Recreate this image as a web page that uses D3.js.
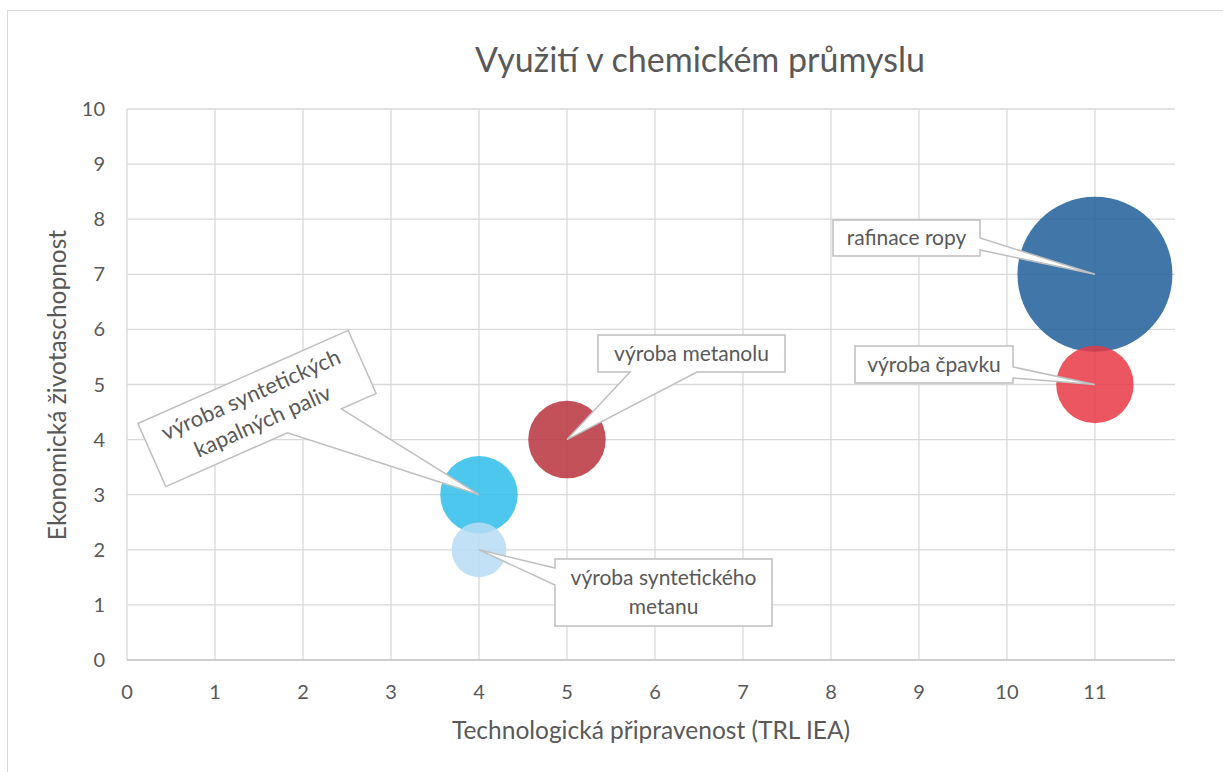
<!DOCTYPE html>
<html>
<head>
<meta charset="utf-8">
<script src="https://cdn.jsdelivr.net/npm/d3@7"></script>
<style>
  body { margin: 0; background: #fff; }
  svg text { font-family: Lato, "Open Sans", sans-serif; fill: #595959; }
</style>
</head>
<body>
<script>
// data
var names = ["rafinace ropy", "výroba čpavku", "výroba metanolu", "výroba syntetických kapalných paliv", "výroba syntetického metanu"];
var trl = [11, 11, 5, 4, 4];
var econ = [7, 5, 4, 3, 2];
var bubbleSize = [4, 1, 1, 1, 0.5];
var colors = ["#1f5f99", "#e73845", "#b8333c", "#2fbdeb", "#b8dcf4"];
var xTicks = [0, 1, 2, 3, 4, 5, 6, 7, 8, 9, 10, 11];
var yTicks = [0, 1, 2, 3, 4, 5, 6, 7, 8, 9, 10];

var width = 1223, height = 772;
var plotL = 127, plotR = 1175, plotT = 109, plotB = 660;

var svg = d3.select("body").append("svg")
  .attr("width", width)
  .attr("height", height);

// chart frame
svg.append("rect")
  .attr("x", 7.5).attr("y", 10.5)
  .attr("width", 1230).attr("height", 780)
  .attr("fill", "none").attr("stroke", "#d9d9d9");

var x = d3.scaleLinear().domain([0, 11.91]).range([plotL, plotR]);
var y = d3.scaleLinear().domain([0, 10]).range([plotB, plotT]);
var r = d3.scaleSqrt().domain([0, 4]).range([0, 77.5]);

// gridlines
svg.append("g").selectAll("line")
  .data(yTicks.slice(1))
  .enter().append("line")
  .attr("x1", plotL).attr("x2", plotR)
  .attr("y1", function(d) { return y(d); })
  .attr("y2", function(d) { return y(d); })
  .attr("stroke", "#d9d9d9").attr("stroke-width", 1.3);

svg.append("g").selectAll("line")
  .data(xTicks)
  .enter().append("line")
  .attr("x1", function(d) { return x(d); })
  .attr("x2", function(d) { return x(d); })
  .attr("y1", plotT).attr("y2", plotB)
  .attr("stroke", "#d9d9d9").attr("stroke-width", 1.3);

// x axis line
svg.append("line")
  .attr("x1", plotL).attr("x2", plotR)
  .attr("y1", y(0)).attr("y2", y(0))
  .attr("stroke", "#bfbfbf").attr("stroke-width", 1.5);

// tick labels
svg.append("g").selectAll("text")
  .data(xTicks)
  .enter().append("text")
  .attr("x", function(d) { return x(d); })
  .attr("y", 699)
  .attr("text-anchor", "middle")
  .attr("font-size", 20)
  .text(function(d) { return d; });

svg.append("g").selectAll("text")
  .data(yTicks)
  .enter().append("text")
  .attr("x", 105)
  .attr("y", function(d) { return y(d) + 7; })
  .attr("text-anchor", "end")
  .attr("font-size", 20)
  .text(function(d) { return d; });

// titles
svg.append("text")
  .attr("x", 700).attr("y", 72)
  .attr("text-anchor", "middle")
  .attr("font-size", 34)
  .text("Využití v chemickém průmyslu");

svg.append("text")
  .attr("x", 651).attr("y", 739)
  .attr("text-anchor", "middle")
  .attr("font-size", 24.5)
  .text("Technologická připravenost (TRL IEA)");

svg.append("text")
  .attr("transform", "translate(66,385) rotate(-90)")
  .attr("text-anchor", "middle")
  .attr("font-size", 24.5)
  .text("Ekonomická životaschopnost");

// bubbles
var idx = d3.range(names.length);
svg.append("g").selectAll("circle")
  .data(idx)
  .enter().append("circle")
  .attr("cx", function(i) { return x(trl[i]); })
  .attr("cy", function(i) { return y(econ[i]); })
  .attr("r", function(i) { return r(bubbleSize[i]); })
  .attr("fill", function(i) { return colors[i]; })
  .attr("fill-opacity", 0.85);

// callout shape: box with a wedge on one side pointing at tip
function calloutPath(x0, y0, w, h, side, a, b, tip) {
  var x1 = x0 + w, y1 = y0 + h;
  var p = [[x0, y0]];
  if (side == "top") p.push([x0 + a, y0], tip, [x0 + b, y0]);
  p.push([x1, y0]);
  if (side == "right") p.push([x1, y0 + a], tip, [x1, y0 + b]);
  p.push([x1, y1]);
  if (side == "bottom") p.push([x0 + b, y1], tip, [x0 + a, y1]);
  p.push([x0, y1]);
  if (side == "left") p.push([x0, y0 + b], tip, [x0, y0 + a]);
  return "M" + p.map(function(q) { return q.join(","); }).join("L") + "Z";
}

// callout layout (box position, wedge side and wedge base along that side)
var callouts = [
  { i: 0, cx: 906.5, cy: 238, w: 147, h: 36, angle: 0, side: "right", a: 18, b: 30, fs: 21, lines: ["rafinace ropy"] },
  { i: 1, cx: 934, cy: 364.5, w: 158, h: 37, angle: 0, side: "right", a: 21, b: 32, fs: 21, lines: ["výroba čpavku"] },
  { i: 2, cx: 691.5, cy: 353.5, w: 187, h: 37, angle: 0, side: "bottom", a: 32, b: 99, fs: 21, lines: ["výroba metanolu"] },
  { i: 3, cx: 257, cy: 408.5, w: 230, h: 69, angle: -23.9, side: "bottom", a: 133, b: 192, fs: 22, lines: ["výroba syntetických", "kapalných paliv"] },
  { i: 4, cx: 663.5, cy: 592.5, w: 217, h: 67, angle: 0, side: "left", a: 9, b: 26, fs: 21, lines: ["výroba syntetického", "metanu"] }
];

callouts.forEach(function(c) {
  var g = svg.append("g")
    .attr("transform", "translate(" + c.cx + "," + c.cy + ") rotate(" + c.angle + ")");
  // tip in the box's own rotated frame
  var dx = x(trl[c.i]) - c.cx, dy = y(econ[c.i]) - c.cy;
  var t = -c.angle * Math.PI / 180;
  var tip = [dx * Math.cos(t) - dy * Math.sin(t), dx * Math.sin(t) + dy * Math.cos(t)];
  g.append("path")
    .attr("d", calloutPath(-c.w / 2, -c.h / 2, c.w, c.h, c.side, c.a, c.b, tip))
    .attr("fill", "#fff")
    .attr("stroke", "#bfbfbf")
    .attr("stroke-width", 1.5)
    .attr("stroke-linejoin", "miter");
  var lh = 29;
  c.lines.forEach(function(s, k) {
    g.append("text")
      .attr("x", 0)
      .attr("y", (k - (c.lines.length - 1) / 2) * lh + 7)
      .attr("text-anchor", "middle")
      .attr("font-size", c.fs)
      .text(s);
  });
});
</script>
</body>
</html>
